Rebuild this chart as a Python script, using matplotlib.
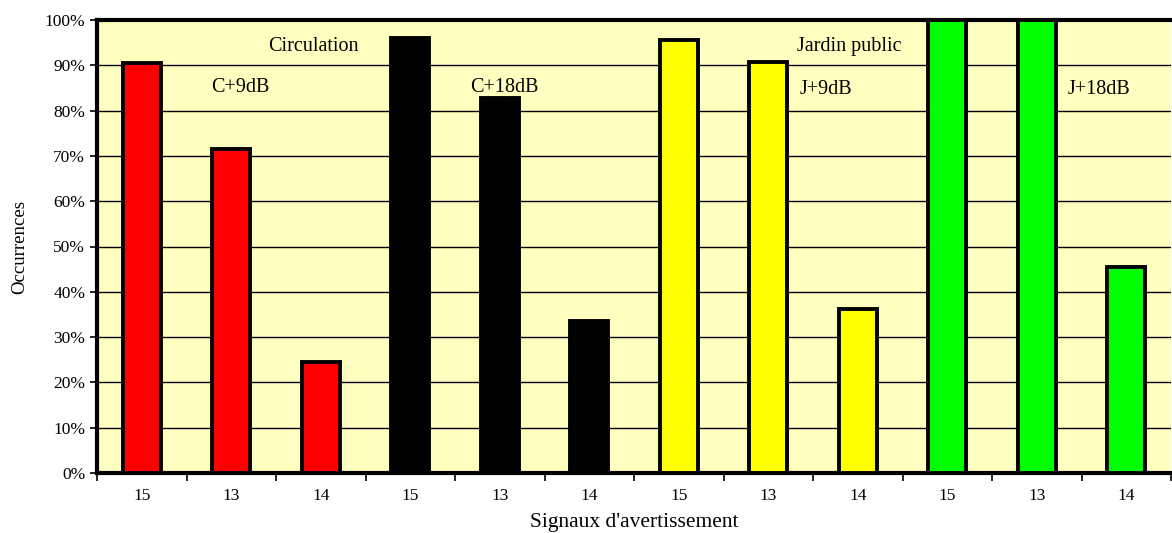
import matplotlib
matplotlib.use("Agg")
import matplotlib.pyplot as plt
from matplotlib.ticker import FuncFormatter, MultipleLocator, FixedLocator

# Data
tick_labels = ["15", "13", "14", "15", "13", "14", "15", "13", "14", "15", "13", "14"]
values = [90.5, 71.5, 24.5, 96.0, 82.8, 33.5, 95.6, 90.8, 36.2, 100.0, 100.0, 45.5]
colors = ["#FF0000"] * 3 + ["#000000"] * 3 + ["#FFFF00"] * 3 + ["#00FF00"] * 3
group_labels = ["Circulation", "Jardin public"]
sub_labels = ["C+9dB", "C+18dB", "J+9dB", "J+18dB"]

plt.rcParams['font.family'] = ['Liberation Serif', 'DejaVu Serif']

fig = plt.figure(figsize=(11.72, 5.33), dpi=100)
ax = fig.add_axes([97/1172, 1 - 473/533, 1 - 97/1172 - 1/1172, (473 - 20) / 533])
ax.set_facecolor("#FFFFC0")

x = list(range(len(values)))
ax.bar(x, values, width=0.42, color=colors, edgecolor="black", linewidth=2.8, zorder=3)

ax.set_xlim(-0.5, len(values) - 0.5)
ax.set_ylim(0, 100)
ax.yaxis.set_major_locator(MultipleLocator(10))
ax.yaxis.set_major_formatter(FuncFormatter(lambda v, p: f"{int(round(v))}%"))
ax.grid(axis="y", color="black", linewidth=1.0, zorder=1)

ax.set_xticks(x)
ax.set_xticklabels(tick_labels, fontsize=12.5)
ax.xaxis.set_minor_locator(FixedLocator([i - 0.5 for i in range(len(values) + 1)]))
ax.tick_params(axis="x", which="major", length=0, pad=11)
ax.tick_params(axis="x", which="minor", length=6, width=1.2, direction="out")
ax.tick_params(axis="y", length=5, width=1.2, labelsize=12.5)

for side in ["left", "bottom", "top"]:
    ax.spines[side].set_linewidth(3)
ax.spines["right"].set_visible(False)

ax.set_ylabel("Occurrences", fontsize=13.5, labelpad=12)
ax.set_xlabel("Signaux d'avertissement", fontsize=15.5, labelpad=6)

fs = 14.5
ax.text(1.92, 94.2, group_labels[0], fontsize=fs, ha="center", va="center", zorder=4)
ax.text(7.9, 94.2, group_labels[1], fontsize=fs, ha="center", va="center", zorder=4)
ax.text(1.1, 85.0, sub_labels[0], fontsize=fs, ha="center", va="center", zorder=4)
ax.text(4.05, 85.0, sub_labels[1], fontsize=fs, ha="center", va="center", zorder=4)
ax.text(7.65, 84.6, sub_labels[2], fontsize=fs, ha="center", va="center", zorder=4)
ax.text(10.7, 84.6, sub_labels[3], fontsize=fs, ha="center", va="center", zorder=4)

fig.savefig("out.png", dpi=100)
